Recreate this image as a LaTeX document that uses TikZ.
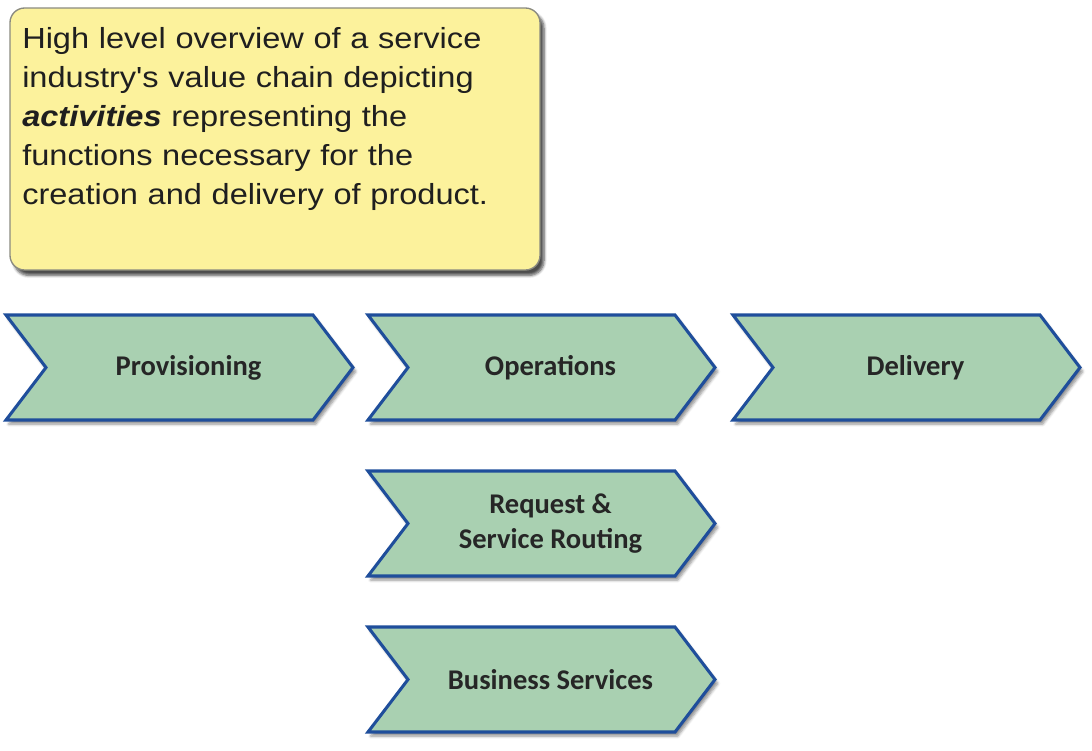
\documentclass[tikz,border=0pt]{standalone}
\usepackage{fontspec}
\setmainfont{Liberation Sans}
\newfontfamily\notefont{Liberation Sans}[FakeStretch=1.12]
\newfontfamily\chevfont{Carlito}
\usetikzlibrary{shadows.blur}
\definecolor{notey}{HTML}{FCF29C}
\definecolor{noteline}{HTML}{8A8A80}
\definecolor{chevfill}{HTML}{A9D0B1}
\definecolor{chevline}{HTML}{1F4E9B}
\definecolor{chevtxt}{HTML}{262626}
\tikzset{
  notebox/.style={fill=notey, draw=noteline, line width=1pt, rounded corners=11pt,
    blur shadow={shadow xshift=3pt, shadow yshift=-4pt, shadow blur steps=6, shadow opacity=70}},
  notetext/.style={inner sep=0pt, text width=400pt, align=left, text=black!88,
    font=\notefont\fontsize{21.8}{29.4}\selectfont},
  chevshape/.style={fill=chevfill, draw=chevline, line width=2.3pt, line join=miter,
    blur shadow={shadow xshift=2pt, shadow yshift=-3pt, shadow blur steps=5, shadow opacity=45}},
  chevtext/.style={inner sep=0pt, align=center, text=chevtxt,
    font=\chevfont\bfseries\fontsize{21.4}{26}\selectfont}
}
\newcommand\chevron[4]{%
  \draw[chevshape] (#2,#3) -- ++(307,0) -- ++(40,52.5) -- ++(-40,52.5) -- ++(-307,0) -- ++(40,-52.5) -- cycle;
  \node[chevtext] (#1) at (#2+182.5,#3+52.5) {#4};}
\begin{document}
\begin{tikzpicture}[x=0.75pt,y=-0.75pt]
\useasboundingbox (0,0) rectangle (1092,750);
\draw[notebox] (10,8) rectangle (540,270);
\node[notetext, anchor=base west] (note) at (22,48) {High level overview of a service\\
industry's value chain depicting\\
\textbf{\textit{activities}} representing the\\
functions necessary for the\\
creation and delivery of product.};
\chevron{prov}{6}{315}{Provisioning}
\chevron{oper}{368}{315}{Operations}
\chevron{deliv}{733}{315}{Delivery}
\chevron{route}{368}{471}{Request \&\\Service Routing}
\chevron{biz}{368}{627}{Business Services}
\end{tikzpicture}
\end{document}
